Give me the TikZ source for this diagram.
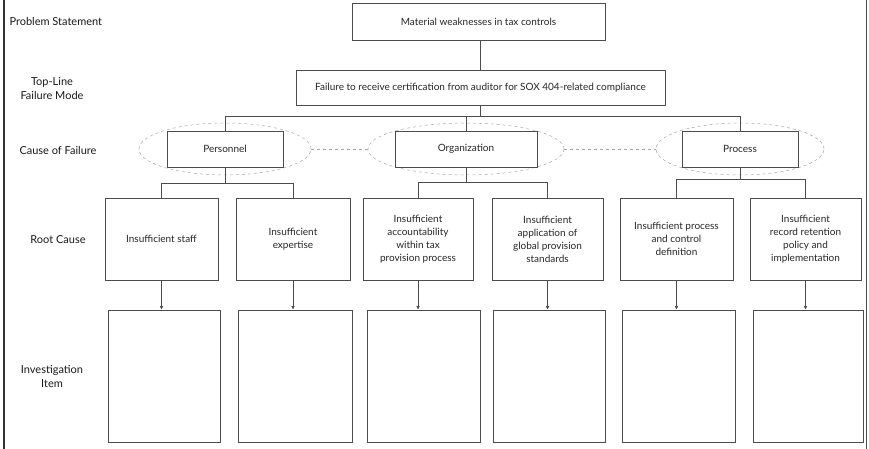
\documentclass[tikz,border=0pt]{standalone}
\usepackage{fontspec}
\setmainfont{Lato}
\usetikzlibrary{arrows.meta}
\begin{document}
\begin{tikzpicture}[x=1pt,y=-1pt,
  every node/.style={font=\fontsize{10}{13}\selectfont, text=black!85},
  box/.style={draw=black!70, line width=0.6pt, inner sep=1pt, align=center},
  lbl/.style={align=center, font=\fontsize{11}{14}\selectfont, text=black!90},
  conn/.style={draw=black!70, line width=0.6pt},
  arr/.style={conn, -{Latex[length=3.5pt,width=3.5pt]}},
  halo/.style={draw=black!35, dashed, line width=0.5pt}
]
\useasboundingbox (0,0) rectangle (869,449);
% frame
\draw[line width=1.2pt, black!80] (4,0) -- (4,449);
\draw[line width=0.9pt, black!70] (866,0) -- (866,449);

% left labels
\node[lbl, anchor=west] (lps) at (6,21) {Problem Statement};
\node[lbl] (ltl) at (52,89) {Top-Line\\Failure Mode};
\node[lbl] (lcf) at (58,150) {Cause of Failure};
\node[lbl] (lrc) at (58,240) {Root Cause};
\node[lbl] (lii) at (52,377) {Investigation\\Item};

% top boxes
\node[box, minimum width=253pt, minimum height=37pt] (ps) at (478.5,21.5) {Material weaknesses in tax controls};
\node[box, minimum width=369pt, minimum height=35pt] (tl) at (480.5,87.5) {Failure to receive certification from auditor for SOX 404-related compliance};

% cause halos
\draw[halo] (225,149) ellipse (86pt and 26pt);
\draw[halo] (466,149) ellipse (98pt and 26pt);
\draw[halo] (740,149) ellipse (84pt and 26pt);
\draw[halo] (311,149) -- (368,149);
\draw[halo] (564,149) -- (656,149);

% cause boxes
\node[box, fill=white, minimum width=116pt, minimum height=36pt] (per) at (225,149) {Personnel};
\node[box, fill=white, minimum width=142pt, minimum height=36pt] (org) at (466,149) {Organization};
\node[box, fill=white, minimum width=116pt, minimum height=36pt] (pro) at (740,149) {Process};

% root cause boxes
\node[box, minimum width=113pt, minimum height=82pt] (r1) at (161.5,239) {Insufficient staff};
\node[box, minimum width=114pt, minimum height=82pt] (r2) at (293,239) {Insufficient\\expertise};
\node[box, minimum width=110pt, minimum height=82pt] (r3) at (418,239) {Insufficient\\accountability\\within tax\\provision process};
\node[box, minimum width=111pt, minimum height=82pt] (r4) at (547.5,239) {Insufficient\\application of\\global provision\\standards};
\node[box, minimum width=113pt, minimum height=82pt] (r5) at (676.5,239) {Insufficient process\\and control\\definition};
\node[box, minimum width=111pt, minimum height=82pt] (r6) at (805.5,239) {Insufficient\\record retention\\policy and\\implementation};

% investigation boxes
\node[box, minimum width=112pt, minimum height=132pt] (i1) at (164,376) {};
\node[box, minimum width=114pt, minimum height=132pt] (i2) at (295,376) {};
\node[box, minimum width=113pt, minimum height=132pt] (i3) at (423.5,376) {};
\node[box, minimum width=112pt, minimum height=132pt] (i4) at (549,376) {};
\node[box, minimum width=113pt, minimum height=132pt] (i5) at (678.5,376) {};
\node[box, minimum width=110pt, minimum height=132pt] (i6) at (808,376) {};

% connectors top
\draw[conn] (ps.south -| tl.north) -- (tl.north);
\coordinate (bus) at (480.5,116);
\draw[conn] (tl.south) -- (bus);
\draw[conn] (per.north |- bus) -- (pro.north |- bus);
\draw[conn] (per.north |- bus) -- (per.north);
\draw[conn] (org.north |- bus) -- (org.north);
\draw[conn] (pro.north |- bus) -- (pro.north);

% brackets to root causes
\coordinate (pb) at (225,183);
\draw[conn] (per.south) -- (pb);
\draw[conn] (r1.north |- pb) -- (r2.north |- pb);
\draw[conn] (r1.north |- pb) -- (r1.north);
\draw[conn] (r2.north |- pb) -- (r2.north);

\coordinate (ob) at (466,182);
\draw[conn] (org.south) -- (ob);
\draw[conn] (r3.north |- ob) -- (r4.north |- ob);
\draw[conn] (r3.north |- ob) -- (r3.north);
\draw[conn] (r4.north |- ob) -- (r4.north);

\coordinate (prb) at (740,179);
\draw[conn] (pro.south) -- (prb);
\draw[conn] (r5.north |- prb) -- (r6.north |- prb);
\draw[conn] (r5.north |- prb) -- (r5.north);
\draw[conn] (r6.north |- prb) -- (r6.north);

% arrows to investigation items
\foreach \r/\i in {r1/i1,r2/i2,r3/i3,r4/i4,r5/i5,r6/i6}{
  \draw[arr] (\r.south) -- (\r.south |- \i.north);
}
\end{tikzpicture}
\end{document}
